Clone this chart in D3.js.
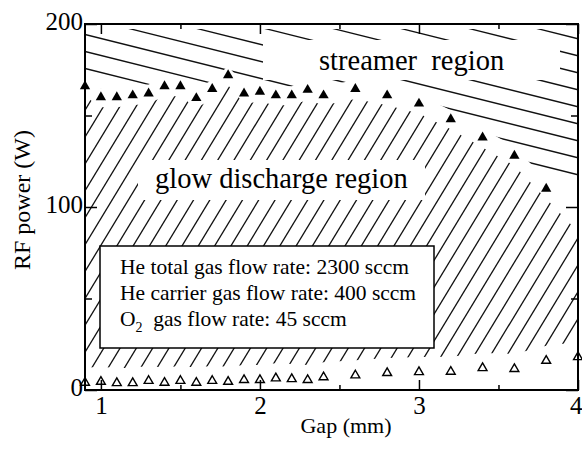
<!DOCTYPE html>
<html>
<head>
<meta charset="utf-8">
<script src="https://cdn.jsdelivr.net/npm/d3@7"></script>
<style>
body { margin: 0; background: #fff; }
</style>
</head>
<body>
<div id="chart"></div>
<script>
// upper limit (filled triangles): glow -> streamer
let gapHigh = [0.9, 1.0, 1.1, 1.2, 1.3, 1.4, 1.5, 1.6, 1.7, 1.8, 1.9, 2.0, 2.1, 2.2, 2.3, 2.4,
               2.6, 2.8, 3.0, 3.2, 3.4, 3.6, 3.8]
let powerHigh = [166, 160, 160, 161, 162, 166, 166, 159.5, 164.5, 172, 162, 163, 161, 161, 164, 161,
                 164.5, 161, 156.5, 148, 138, 128, 110]
// lower limit (open triangles): ignition
let gapLow = [0.9, 1.0, 1.1, 1.2, 1.3, 1.4, 1.5, 1.6, 1.7, 1.8, 1.9, 2.0, 2.1, 2.2, 2.3, 2.4,
              2.6, 2.8, 3.0, 3.2, 3.4, 3.6, 3.8, 4.0]
let powerLow = [4, 4.5, 3.8, 3.8, 5, 4, 5, 4, 5, 4.5, 5.5, 5.5, 6.4, 6, 5.5, 7,
                8, 9.3, 9.8, 10, 12, 11.5, 16, 18]

let xMajor = [1, 2, 3, 4]
let xMinor = [1.5, 2.5, 3.5]
let yMajor = [0, 100, 200]
let yMinor = [50, 150]
let legendLines = ["He total gas flow rate: 2300 sccm", "He carrier gas flow rate: 400 sccm"]

let serif = "'Liberation Serif', Tinos, 'Times New Roman', Times, 'Nimbus Roman', 'DejaVu Serif', serif"

let margin = {top: 24, right: 4, bottom: 62, left: 85},
    width = 582 - margin.left - margin.right,
    height = 452 - margin.top - margin.bottom;

let svg = d3.select("#chart")
    .append("svg")
    .attr("width", 582)
    .attr("height", 452)
    .attr("font-family", serif)

let g = svg.append("g")
    .attr("transform", "translate(" + margin.left + "," + margin.top + ")")

let x = d3.scaleLinear().domain([0.9, 4.0]).range([0, width])
let y = d3.scaleLinear().domain([0, 200]).range([height, 0])

// boundaries in pixels, used to clip the hatching
let upper = gapHigh.map((d, i) => [x(d), y(powerHigh[i])])
let lower = gapLow.map((d, i) => [x(d), y(powerLow[i])])
let p1 = upper[upper.length - 2], p2 = upper[upper.length - 1]
let yRight = p2[1] + (width - p2[0]) * (p2[1] - p1[1]) / (p2[0] - p1[0])

let glowPoly = upper.map(p => [p[0], p[1] + 10])
    .concat([[width, yRight + 10]])
    .concat(lower.slice().reverse().map(p => [p[0], p[1] - 15]))
let streamPoly = [[0, 5], [width, 5], [width, p2[1] - 8]]
    .concat(upper.slice().reverse().map(p => [p[0], p[1] - 9]))

let defs = svg.append("defs")
defs.append("clipPath").attr("id", "clipGlow")
    .append("polygon").attr("points", glowPoly.map(p => p.join(",")).join(" "))
defs.append("clipPath").attr("id", "clipStream")
    .append("polygon").attr("points", streamPoly.map(p => p.join(",")).join(" "))

// "/" hatching in glow region
let glow = g.append("g").attr("clip-path", "url(#clipGlow)")
let steep = 1.65
for (let xs = -300; xs < width + 20; xs += 16.3) {
    glow.append("line")
        .attr("x1", xs).attr("y1", height)
        .attr("x2", xs + height / steep).attr("y2", 0)
        .attr("stroke", "#111").attr("stroke-width", 1.3)
}

// "\" hatching in streamer region
let stream = g.append("g").attr("clip-path", "url(#clipStream)")
let shallow = 0.25
for (let c = 10.5 - 17 * 12; c < height; c += 17) {
    stream.append("line")
        .attr("x1", 0).attr("y1", c)
        .attr("x2", width).attr("y2", c + width * shallow)
        .attr("stroke", "#111").attr("stroke-width", 1.3)
}

// white patches behind region labels
g.append("rect").attr("x", 178).attr("y", 16).attr("width", 297).attr("height", 40).attr("fill", "#fff")
g.append("rect").attr("x", 53).attr("y", 136).attr("width", 287).attr("height", 40).attr("fill", "#fff")

g.append("text").attr("x", 234).attr("y", 46)
    .attr("font-size", 28.5).attr("xml:space", "preserve")
    .text("streamer  region")
g.append("text").attr("x", 70).attr("y", 164)
    .attr("font-size", 28.5)
    .text("glow discharge region")

// legend box
g.append("rect").attr("x", 15).attr("y", 222).attr("width", 334).attr("height", 102)
    .attr("fill", "#fff").attr("stroke", "#000").attr("stroke-width", 1.5)
legendLines.forEach(function(t, i) {
    g.append("text").attr("x", 35).attr("y", 250 + i * 26)
        .attr("font-size", 21.5).text(t)
})
let o2 = g.append("text").attr("x", 35).attr("y", 302).attr("font-size", 21.5)
o2.append("tspan").text("O")
o2.append("tspan").attr("dy", 6).attr("font-size", 14).text("2")
o2.append("tspan").attr("dy", -6).attr("xml:space", "preserve").text("  gas flow rate: 45 sccm")

// points
g.selectAll(".hi")
    .data(gapHigh)
    .enter().append("path")
    .attr("class", "hi")
    .attr("transform", (d, i) => "translate(" + x(d) + "," + y(powerHigh[i]) + ")")
    .attr("d", d3.symbol().type(d3.symbolTriangle).size(46))
    .attr("fill", "#000")

g.selectAll(".lo")
    .data(gapLow)
    .enter().append("path")
    .attr("class", "lo")
    .attr("transform", (d, i) => "translate(" + x(d) + "," + y(powerLow[i]) + ")")
    .attr("d", d3.symbol().type(d3.symbolTriangle).size(34))
    .attr("fill", "#fff")
    .attr("stroke", "#000")
    .attr("stroke-width", 1.4)

// axes, ticks inside
function styleAxis(sel) {
    sel.attr("font-family", serif).attr("font-size", 25)
    sel.select(".domain").remove()
    sel.selectAll("line").attr("stroke", "#000").attr("stroke-width", 1.5)
    sel.selectAll("text").attr("fill", "#000")
}

let xAxis = g.append("g").attr("transform", "translate(0," + height + ")")
    .call(d3.axisBottom(x).tickValues(xMajor).tickSize(-10).tickPadding(6).tickFormat(d3.format("d")))
    .call(styleAxis)
// last label sits on the right edge, keep it inside the page
xAxis.selectAll("text").filter(d => d === 4).attr("text-anchor", "end").attr("dx", 4)
g.append("g").attr("transform", "translate(0," + height + ")")
    .call(d3.axisBottom(x).tickValues(xMinor).tickSize(-5).tickFormat(""))
    .call(styleAxis)
g.append("g")
    .call(d3.axisTop(x).tickValues(xMajor).tickSize(-10).tickFormat(""))
    .call(styleAxis)
g.append("g")
    .call(d3.axisTop(x).tickValues(xMinor).tickSize(-5).tickFormat(""))
    .call(styleAxis)

g.append("g")
    .call(d3.axisLeft(y).tickValues(yMajor).tickSize(-12).tickPadding(2).tickFormat(d3.format("d")))
    .call(styleAxis)
    .selectAll("text").attr("dy", "0.2em")
g.append("g")
    .call(d3.axisLeft(y).tickValues(yMinor).tickSize(-7).tickFormat(""))
    .call(styleAxis)
g.append("g").attr("transform", "translate(" + width + ",0)")
    .call(d3.axisRight(y).tickValues(yMajor).tickSize(-12).tickFormat(""))
    .call(styleAxis)
g.append("g").attr("transform", "translate(" + width + ",0)")
    .call(d3.axisRight(y).tickValues(yMinor).tickSize(-7).tickFormat(""))
    .call(styleAxis)

// frame
g.append("rect").attr("width", width).attr("height", height)
    .attr("fill", "none").attr("stroke", "#000").attr("stroke-width", 2)

// axis titles
svg.append("text").attr("x", 346).attr("y", 433)
    .attr("text-anchor", "middle").attr("font-size", 22)
    .text("Gap (mm)")
svg.append("text")
    .attr("transform", "translate(30,200) rotate(-90)")
    .attr("text-anchor", "middle").attr("font-size", 24)
    .text("RF power (W)")
</script>
</body>
</html>
